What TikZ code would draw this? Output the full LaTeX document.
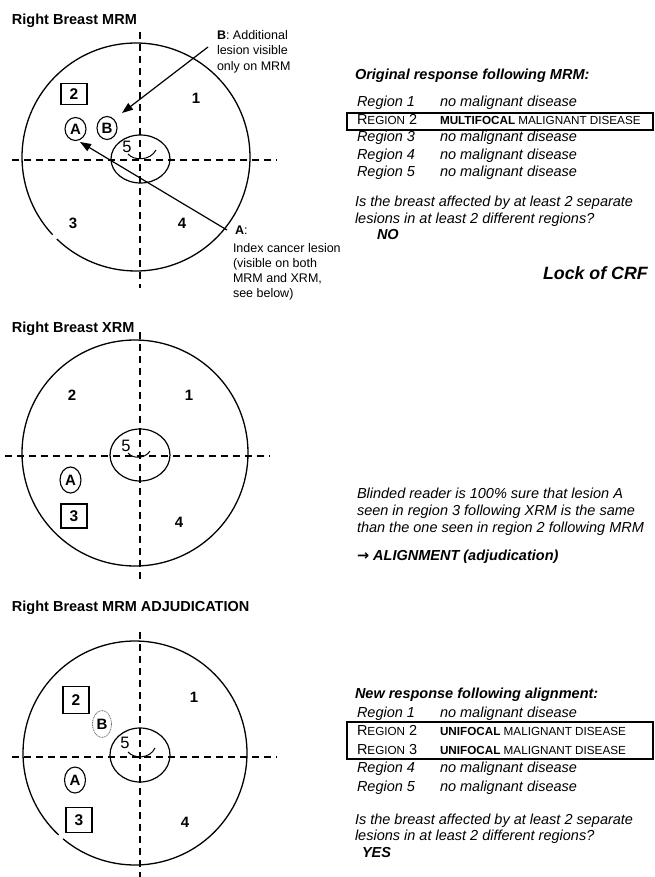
\documentclass[tikz,border=0pt]{standalone}
\usepackage{fontspec}
\setmainfont{Liberation Sans}
\newfontfamily\djv{DejaVu Sans}
\usetikzlibrary{arrows.meta,shapes.geometric}
\newcommand{\fsz}[1]{\fontsize{#1}{#1}\selectfont}
\begin{document}
\begin{tikzpicture}[x=1pt,y=-1pt,
  every node/.style={inner sep=0pt, outer sep=0pt},
  ttl/.style={font=\fsz{14.5}\bfseries, anchor=base west},
  hdr/.style={font=\fsz{14.5}\bfseries\itshape, anchor=base west},
  row/.style={font=\fsz{14.5}\itshape, anchor=base west},
  caps/.style={font=\fsz{14.5}, anchor=base west},
  note/.style={font=\fsz{12.5}, anchor=base west},
  num/.style={font=\fsz{15}\bfseries},
  five/.style={font=\fsz{16.5}},
  lbox/.style={draw, line width=1.2pt, minimum width=26pt, font=\fsz{15.5}\bfseries},
  les/.style={draw, ellipse, line width=1.1pt, font=\fsz{15}\bfseries},
  breast/.style={line width=1.3pt},
  axis/.style={line width=1.2pt, dash pattern=on 7pt off 5pt},
  ring/.style={line width=1.2pt},
  smile/.style={line width=1pt},
  ptr/.style={line width=1.2pt, -{Triangle[length=11pt,width=8pt]}},
  rbox/.style={draw, line width=1.2pt},
]
\fill[white] (0,0) rectangle (654,877);
\useasboundingbox (0,0) rectangle (654,877);

% ================= Panel 1 =================
\node[ttl] (t1) at (12,25) {Right Breast MRM};
\coordinate (c1) at (136,157);
\draw[breast] (c1) ++(137:114) arc[start angle=137, end angle=494, radius=114];
\draw[axis] (140,32) -- (140,288);
\draw[axis] (12,160) -- (277,160);
\draw[ring] (140.5,159) ellipse [x radius=29.5, y radius=24];
\node[five] (f1) at (127,147) {5};
\draw[smile] (128,154) .. controls (134,161) and (150,161) .. (156,150);
\node[num] (r1a) at (196,98) {1};
\node[num] (r3a) at (73,223) {3};
\node[num] (r4a) at (182,223) {4};
\node[lbox, minimum height=21pt] (b2a) at (74,94) {2};
\node[les, minimum width=21pt, minimum height=23pt] (la1) at (75.5,129) {A};
\node[les, minimum width=20pt, minimum height=23pt] (lb1) at (107,128) {B};
\coordinate (pb0) at (208,47);
\coordinate (pb1) at (122,113);
\draw[ptr] (pb0) -- (pb1);
\coordinate (pa0) at (227,230);
\coordinate (pa1) at (80,142);
\draw[ptr] (pa0) -- (pa1);
\node[note] (nb1) at (217,39.5) {\textbf{B}: Additional};
\node[note] (nb2) at (217,55) {lesion visible};
\node[note] (nb3) at (217,70.5) {only on MRM};
\node[note] (na0) at (235,234.5) {\textbf{A}:};
\node[note] (na1) at (233,252.5) {Index cancer lesion};
\node[note] (na2) at (233,267.5) {(visible on both};
\node[note] (na3) at (233,282.5) {MRM and XRM,};
\node[note] (na4) at (233,297.5) {see below)};

\node[hdr] (h1) at (355,80) {Original response following MRM:};
\node[row] (p1r1) at (357,107) {Region 1};
\node[row] (p1d1) at (440,107) {no malignant disease};
\node[caps] (p1r2) at (357,124.5) {R{\fsz{11.7}EGION} 2};
\node[caps, font=\fsz{11.7}] (p1d2) at (440,124.5) {\textbf{MULTIFOCAL} MALIGNANT DISEASE};
\node[row] (p1r3) at (357,142) {Region 3};
\node[row] (p1d3) at (440,142) {no malignant disease};
\node[row] (p1r4) at (357,159.5) {Region 4};
\node[row] (p1d4) at (440,159.5) {no malignant disease};
\node[row] (p1r5) at (357,177) {Region 5};
\node[row] (p1d5) at (440,177) {no malignant disease};
\draw[rbox] (347,113) rectangle (653,130);
\node[row] (q1a) at (355,207) {Is the breast affected by at least 2 separate};
\node[row] (q1b) at (355,223) {lesions in at least 2 different regions?};
\node[hdr] (ans1) at (377,240) {NO};
\node[hdr, font=\fsz{17.8}\bfseries\itshape] (lock) at (543,279.5) {Lock of CRF};

% ================= Panel 2 =================
\node[ttl] (t2) at (12,332) {Right Breast XRM};
\coordinate (c2) at (135,453);
\draw[breast] (c2) circle [radius=113];
\draw[axis] (140,332) -- (140,583);
\draw[axis] (5,456) -- (270,456);
\draw[ring] (140,455) ellipse [x radius=30, y radius=26];
\node[five] (f2) at (126,446) {5};
\draw[smile] (128,453) .. controls (133,459) and (145,459) .. (150,451);
\node[num] (r2b) at (72,395) {2};
\node[num] (r1b) at (189,395) {1};
\node[num] (r4b) at (179,522) {4};
\node[les, minimum width=21pt, minimum height=26pt] (la2) at (70.5,480) {A};
\node[lbox, minimum height=24pt] (b3b) at (74,516) {3};

\node[row] (s1) at (357,498) {Blinded reader is 100\% sure that lesion A};
\node[row] (s2) at (357,515) {seen in region 3 following XRM is the same};
\node[row] (s3) at (357,532) {than the one seen in region 2 following MRM};
\node[hdr] (align) at (357,560) {{\djv\bfseries\itshape →} ALIGNMENT (adjudication)};

% ================= Panel 3 =================
\node[ttl] (t3) at (12,611) {Right Breast MRM ADJUDICATION};
\coordinate (c3) at (135,753);
\draw[breast] (c3) ++(133:112) arc[start angle=133, end angle=490, radius=112];
\draw[axis] (140,632) -- (140,877);
\draw[axis] (12,757) -- (277,757);
\draw[ring] (140,755) ellipse [x radius=30, y radius=27];
\node[five] (f3) at (125,743) {5};
\draw[smile] (128,752) .. controls (134,759) and (150,759) .. (155,748);
\node[num] (r1c) at (194,697) {1};
\node[num] (r4c) at (185,822) {4};
\node[lbox, minimum height=27pt] (b2c) at (76,700) {2};
\node[les, draw=black!55, line width=0.8pt, dash pattern=on 1pt off 0.7pt, minimum width=19pt, minimum height=27pt] (lb3) at (102,724) {B};
\node[les, minimum width=21pt, minimum height=26pt] (la3) at (75,780) {A};
\node[lbox, minimum height=25pt] (b3c) at (79,820) {3};

\node[hdr] (h3) at (355,698) {New response following alignment:};
\node[row] (p3r1) at (357,717) {Region 1};
\node[row] (p3d1) at (440,717) {no malignant disease};
\node[caps] (p3r2) at (357,735.5) {R{\fsz{11.7}EGION} 2};
\node[caps, font=\fsz{11.7}] (p3d2) at (440,735.5) {\textbf{UNIFOCAL} MALIGNANT DISEASE};
\node[caps] (p3r3) at (357,754) {R{\fsz{11.7}EGION} 3};
\node[caps, font=\fsz{11.7}] (p3d3) at (440,754) {\textbf{UNIFOCAL} MALIGNANT DISEASE};
\node[row] (p3r4) at (357,772.5) {Region 4};
\node[row] (p3d4) at (440,772.5) {no malignant disease};
\node[row] (p3r5) at (357,791) {Region 5};
\node[row] (p3d5) at (440,791) {no malignant disease};
\draw[rbox] (347,722) rectangle (653,759);
\node[row] (q3a) at (355,824) {Is the breast affected by at least 2 separate};
\node[row] (q3b) at (355,840) {lesions in at least 2 different regions?};
\node[hdr] (ans3) at (362,857) {YES};
\end{tikzpicture}
\end{document}
